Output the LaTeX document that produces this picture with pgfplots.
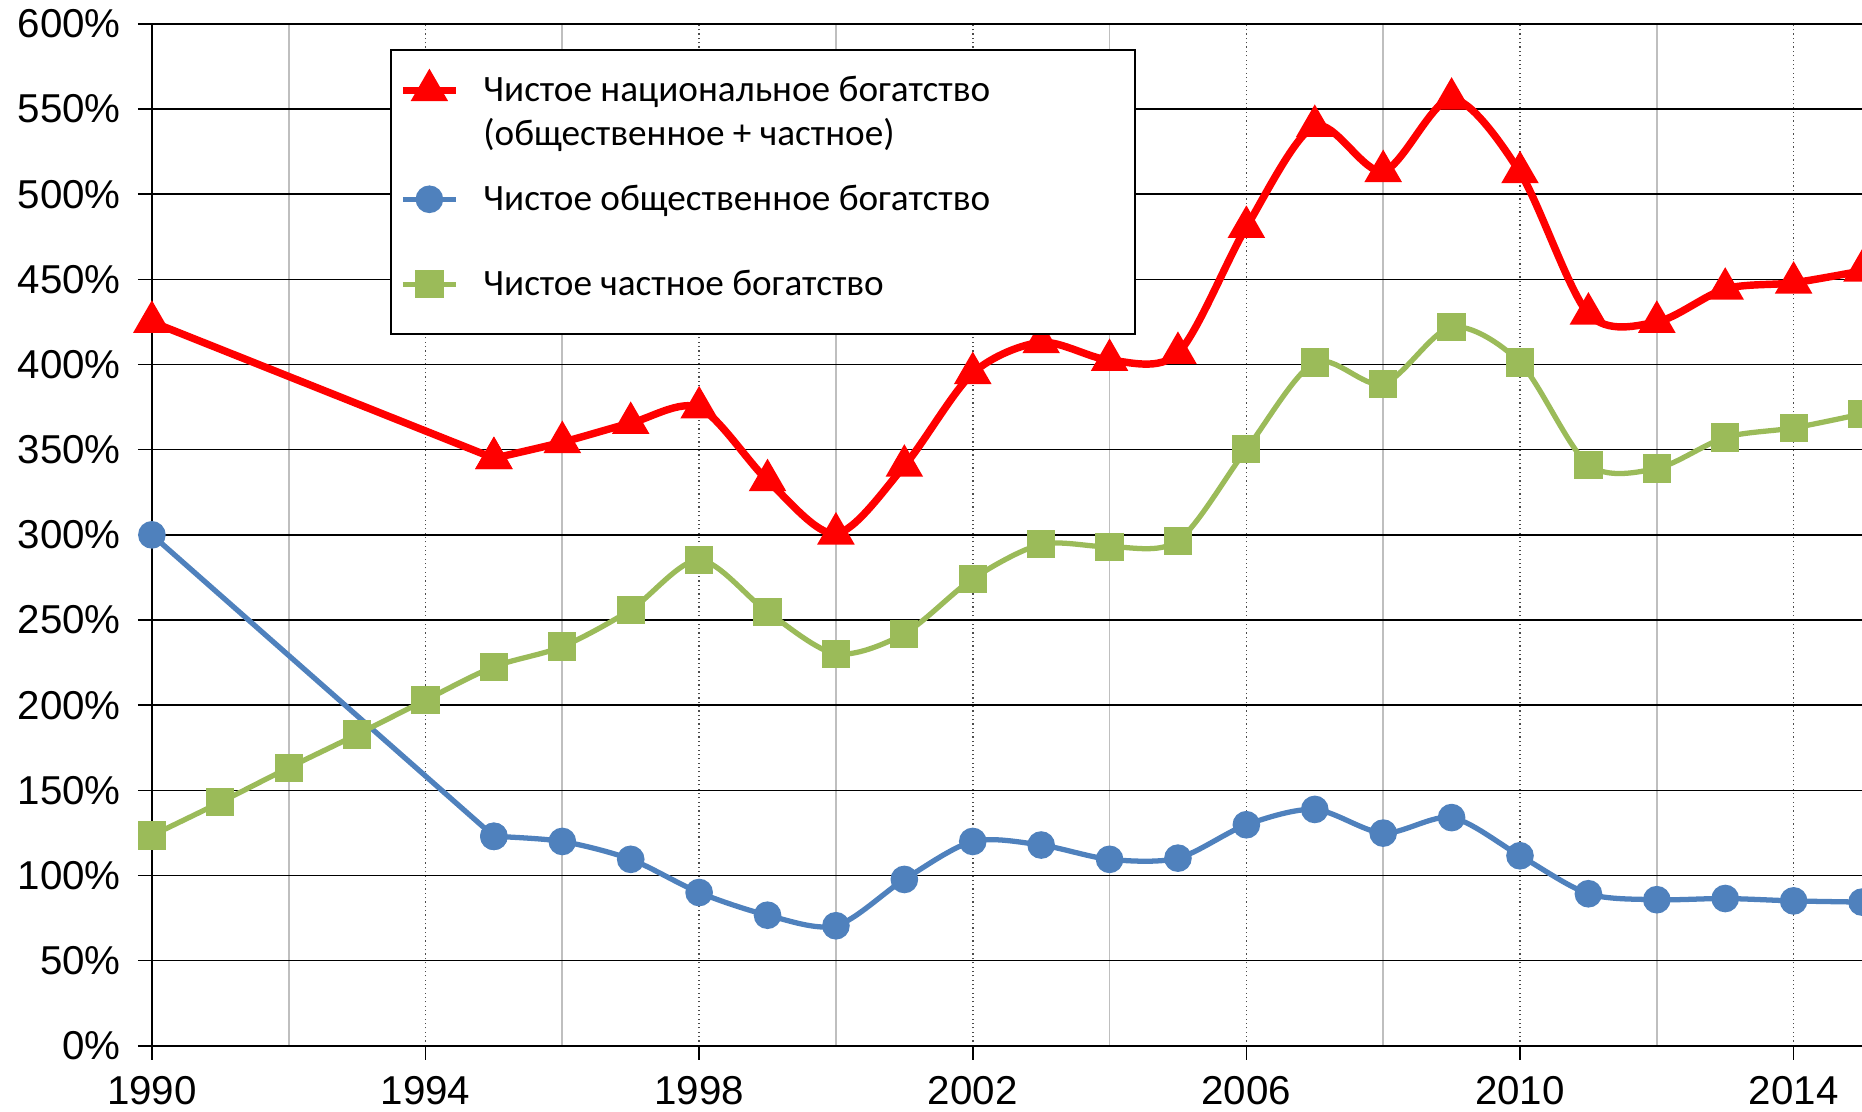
\documentclass[border=0pt]{standalone}
\usepackage{fontspec}
\setmainfont{Liberation Sans}
\newfontfamily\carlito{Carlito}
\usepackage{pgfplots}
\pgfplotsset{compat=1.18}
\definecolor{cred}{HTML}{FF0000}
\definecolor{cblue}{HTML}{4F81BD}
\definecolor{cgreen}{HTML}{9BBB59}
\begin{document}
\begin{tikzpicture}
\begin{axis}[
  name=ax,
  scale only axis, width=551.7pt, height=329.7pt,
  xmin=1990, xmax=2015, ymin=0, ymax=600,
  clip=false,
  axis lines*=left,
  axis line style={black, line width=0.7pt},
  xtick={1990,1994,1998,2002,2006,2010,2014},
  minor xtick={1992,1996,2000,2004,2008,2012},
  ytick={0,50,...,600},
  xmajorgrids, xminorgrids, ymajorgrids,
  major x grid style={gray!60!black, densely dotted, line width=0.5pt},
  minor x grid style={gray!50, line width=0.6pt},
  major y grid style={black, line width=0.45pt},
  tick align=outside, major tick length=4.5pt, minor tick length=0pt,
  tick style={black, line width=0.5pt},
  tick label style={font=\fontsize{13}{15}\selectfont},
  yticklabel style={xshift=-2pt},
  xticklabel style={inner ysep=1pt, yshift=-4.2pt},
  /pgf/number format/assume math mode=true,
  /pgf/number format/1000 sep={},
  yticklabel={\pgfmathprintnumber{\tick}\%},
  legend cell align=left,
  legend style={at={(rel axis cs:0.139,0.9756)}, anchor=north west,
    draw=black, line width=0.8pt, fill=white,
    font=\carlito\fontsize{12}{14.4}\selectfont,
    nodes={inner sep=0pt, text depth=},
    row sep=0pt, column sep=7.7pt, inner xsep=2.7pt, inner ysep=4pt},
]
% straight early segments
\addplot[cred, line width=2.4pt, mark=triangle*, mark size=4.6pt, forget plot]
 coordinates {(1990,425) (1995,345)};
\addplot[cblue, line width=1.7pt, mark=*, mark size=3.6pt, forget plot]
 coordinates {(1990,300) (1995,123)};

\addplot[cred, line width=2.4pt, smooth, tension=0.5, mark=triangle*, mark size=4.6pt]
 coordinates {(1995,345) (1996,354.4) (1997,365.6) (1998,374.7) (1999,332) (2000,300.7)
 (2001,340.5) (2002,394.9) (2003,413) (2004,402.6) (2005,406.7) (2006,480.7)
 (2007,540) (2008,513.5) (2009,556) (2010,512.8) (2011,429.8) (2012,425)
 (2013,444.4) (2014,448) (2015,455)};
\addlegendentry{\rule[-5.5pt]{0pt}{18pt}Чистое национальное богатство\hspace*{44pt}}
\addlegendimage{empty legend}
\addlegendentry{(общественное + частное)}

\addplot[cblue, line width=1.7pt, smooth, tension=0.5, mark=*, mark size=3.6pt]
 coordinates {(1995,123) (1996,120) (1997,109.5) (1998,90) (1999,76.7) (2000,70.5)
 (2001,97.7) (2002,120) (2003,117.9) (2004,109.5) (2005,110.2) (2006,129.8)
 (2007,138.8) (2008,124.9) (2009,134) (2010,111.6) (2011,89.3) (2012,85.8)
 (2013,86.5) (2014,85.1) (2015,84.4)};
\addlegendentry{\rule[-11.9pt]{0pt}{30.8pt}Чистое общественное богатство}

\addplot[cgreen, line width=1.7pt, smooth, tension=0.5, mark=square*, mark size=3.7pt]
 coordinates {(1990,123.5) (1991,143) (1992,163.3) (1993,182.8) (1994,203) (1995,222.6)
 (1996,234.4) (1997,256) (1998,285.3) (1999,254.7) (2000,230.2) (2001,242)
 (2002,274.2) (2003,294.4) (2004,293) (2005,296.5) (2006,350.2) (2007,401.2)
 (2008,388.6) (2009,422) (2010,401.2) (2011,341.2) (2012,339) (2013,357.2)
 (2014,362.8) (2015,371)};
\addlegendentry{\rule[-8.5pt]{0pt}{24pt}Чистое частное богатство}
\end{axis}
\pgfresetboundingbox
\useasboundingbox ([shift={(-49pt,-21.3pt)}]ax.south west) rectangle ([shift={(0pt,7.7pt)}]ax.north east);
\end{tikzpicture}
\end{document}
